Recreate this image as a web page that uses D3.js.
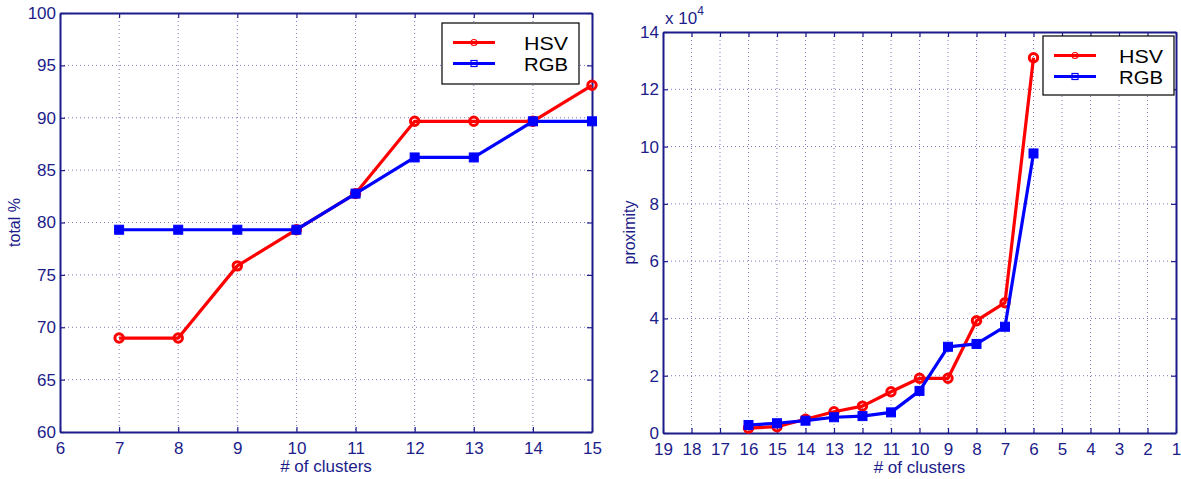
<!DOCTYPE html>
<html>
<head>
<meta charset="utf-8">
<script src="https://cdn.jsdelivr.net/npm/d3@7"></script>
<style>
  html, body { margin: 0; padding: 0; background: #fff; }
  svg { display: block; font-family: "Liberation Sans", Arial, Helvetica, sans-serif; }
</style>
</head>
<body>
<svg id="chart" width="1181" height="479"></svg>
<script>
// ---- Data ----
const leftClusters = [7, 8, 9, 10, 11, 12, 13, 14, 15];
const leftHSV = [68.97, 68.97, 75.86, 79.31, 82.76, 89.66, 89.66, 89.66, 93.10];
const leftRGB = [79.31, 79.31, 79.31, 79.31, 82.76, 86.21, 86.21, 89.66, 89.66];
const leftXTicks = [6, 7, 8, 9, 10, 11, 12, 13, 14, 15];
const leftYTicks = [60, 65, 70, 75, 80, 85, 90, 95, 100];

const rightClusters = [16, 15, 14, 13, 12, 11, 10, 9, 8, 7, 6];
const rightHSV = [1700, 2200, 4800, 7400, 9400, 14400, 19100, 19100, 39200, 45500, 131000];
const rightRGB = [2800, 3400, 4300, 5500, 5900, 7200, 14700, 30100, 31100, 37100, 97600];
const rightXTicks = [19, 18, 17, 16, 15, 14, 13, 12, 11, 10, 9, 8, 7, 6, 5, 4, 3, 2, 1];
const rightYTicks = [0, 20000, 40000, 60000, 80000, 100000, 120000, 140000];

const seriesNames = ["HSV", "RGB"];
const xLabel = "# of clusters";
const leftYLabel = "total %";
const rightYLabel = "proximity";

// ---- Style ----
const AXIS = "#1c1c8a";
const GRID = "#7a7ac0";
const RED = "#ff0000";
const BLUE = "#0000ff";

const svg = d3.select("#chart");

function panel(cfg) {
  const g = svg.append("g");
  const x = d3.scaleLinear().domain(cfg.xDomain).range([cfg.left, cfg.right]);
  const y = d3.scaleLinear().domain(cfg.yDomain).range([cfg.bottom, cfg.top]);

  // grid
  const grid = g.append("g");
  grid.selectAll("line.gx").data(cfg.xTicks.filter(t => t !== cfg.xDomain[0] && t !== cfg.xDomain[1]))
    .join("line")
    .attr("x1", d => x(d)).attr("x2", d => x(d))
    .attr("y1", cfg.top).attr("y2", cfg.bottom)
    .attr("stroke", GRID).attr("stroke-width", 1).attr("stroke-dasharray", "1,3");
  grid.selectAll("line.gy").data(cfg.yTicks.filter(t => t !== cfg.yDomain[0] && t !== cfg.yDomain[1]))
    .join("line")
    .attr("x1", cfg.left).attr("x2", cfg.right)
    .attr("y1", d => y(d)).attr("y2", d => y(d))
    .attr("stroke", GRID).attr("stroke-width", 1).attr("stroke-dasharray", "1,3");

  // axes
  const fs = "17px";
  const xb = g.append("g").attr("transform", `translate(0,${cfg.bottom})`)
    .call(d3.axisBottom(x).tickValues(cfg.xTicks).tickFormat(d3.format("d")).tickSizeInner(-5).tickSizeOuter(0).tickPadding(10));
  const xt = g.append("g").attr("transform", `translate(0,${cfg.top})`)
    .call(d3.axisTop(x).tickValues(cfg.xTicks).tickFormat("").tickSizeInner(-5).tickSizeOuter(0));
  const yl = g.append("g").attr("transform", `translate(${cfg.left},0)`)
    .call(d3.axisLeft(y).tickValues(cfg.yTicks).tickFormat(cfg.yFormat).tickSizeInner(-5).tickSizeOuter(0).tickPadding(4));
  const yr = g.append("g").attr("transform", `translate(${cfg.right},0)`)
    .call(d3.axisRight(y).tickValues(cfg.yTicks).tickFormat("").tickSizeInner(-5).tickSizeOuter(0));
  [xb, xt, yl, yr].forEach(a => {
    a.selectAll("path.domain").attr("stroke", AXIS).attr("stroke-width", 2);
    a.selectAll(".tick line").attr("stroke", AXIS).attr("stroke-width", 1.2);
    a.selectAll("text").attr("fill", AXIS).style("font-size", fs).style("font-family", "Liberation Sans, Arial, sans-serif");
  });

  // axis labels
  g.append("text").attr("x", (cfg.left + cfg.right) / 2).attr("y", cfg.bottom + 40)
    .attr("text-anchor", "middle").attr("fill", AXIS).style("font-size", "17px").text(xLabel);
  g.append("text")
    .attr("transform", `translate(${cfg.ylabX},${(cfg.top + cfg.bottom) / 2}) rotate(-90)`)
    .attr("text-anchor", "middle").attr("fill", AXIS).style("font-size", "16px").text(cfg.yLabel);

  if (cfg.exponent) {
    const t = g.append("text").attr("x", cfg.left + 2).attr("y", cfg.top - 8)
      .attr("fill", AXIS).style("font-size", "17px");
    t.append("tspan").text("x 10");
    t.append("tspan").attr("dy", -9).style("font-size", "12px").text(cfg.exponent);
  }

  // lines
  const line = d3.line().x(d => x(d[0])).y(d => y(d[1]));
  const hsv = cfg.xs.map((v, i) => [v, cfg.hsv[i]]);
  const rgb = cfg.xs.map((v, i) => [v, cfg.rgb[i]]);

  g.append("path").datum(hsv).attr("d", line).attr("fill", "none")
    .attr("stroke", RED).attr("stroke-width", 3.2).attr("stroke-linejoin", "round");
  g.selectAll("circle.m").data(hsv).join("circle")
    .attr("cx", d => x(d[0])).attr("cy", d => y(d[1])).attr("r", 4.2)
    .attr("fill", "none").attr("stroke", RED).attr("stroke-width", 3);
  g.append("path").datum(rgb).attr("d", line).attr("fill", "none")
    .attr("stroke", BLUE).attr("stroke-width", 3.2).attr("stroke-linejoin", "round");
  g.selectAll("rect.m").data(rgb).join("rect")
    .attr("x", d => x(d[0]) - 4.5).attr("y", d => y(d[1]) - 4.5)
    .attr("width", 9).attr("height", 9).attr("fill", BLUE).attr("stroke", BLUE).attr("stroke-width", 1);

  // legend
  const L = cfg.legend;
  const lg = g.append("g");
  lg.append("rect").attr("x", L.x).attr("y", L.y).attr("width", L.w).attr("height", L.h)
    .attr("fill", "#fff").attr("stroke", "#000").attr("stroke-width", 1.2);
  const rows = [{ name: seriesNames[0], c: RED, m: "circle" }, { name: seriesNames[1], c: BLUE, m: "square" }];
  rows.forEach((r, i) => {
    const ly = L.y + 19.5 + i * 21;
    lg.append("line").attr("x1", L.x + 11).attr("x2", L.x + 53).attr("y1", ly).attr("y2", ly)
      .attr("stroke", r.c).attr("stroke-width", 3.2);
    const mx = L.x + 32;
    if (r.m === "circle") {
      lg.append("circle").attr("cx", mx).attr("cy", ly).attr("r", 3).attr("fill", "none").attr("stroke", r.c).attr("stroke-width", 1.2);
    } else {
      lg.append("rect").attr("x", mx - 3).attr("y", ly - 3).attr("width", 6).attr("height", 6).attr("fill", "none").attr("stroke", r.c).attr("stroke-width", 1.2);
    }
    lg.append("text").attr("x", L.x + L.w - 11).attr("y", ly + 7.5).attr("text-anchor", "end")
      .attr("fill", "#000").style("font-size", "18px")
      .attr("textLength", 44).attr("lengthAdjust", "spacingAndGlyphs")
      .text(r.name);
  });
}

panel({
  left: 60, right: 592, top: 13, bottom: 432,
  xDomain: [6, 15], yDomain: [60, 100],
  xTicks: leftXTicks, yTicks: leftYTicks, yFormat: d3.format("d"),
  xs: leftClusters, hsv: leftHSV, rgb: leftRGB,
  yLabel: leftYLabel, ylabX: 20,
  legend: { x: 442, y: 23, w: 137, h: 61 }
});

panel({
  left: 663, right: 1176, top: 32, bottom: 433,
  xDomain: [19, 1], yDomain: [0, 140000],
  xTicks: rightXTicks, yTicks: rightYTicks, yFormat: d => d3.format("d")(d / 10000),
  xs: rightClusters, hsv: rightHSV, rgb: rightRGB,
  yLabel: rightYLabel, ylabX: 635, exponent: "4",
  legend: { x: 1043, y: 36, w: 131, h: 59 }
});
</script>
</body>
</html>
